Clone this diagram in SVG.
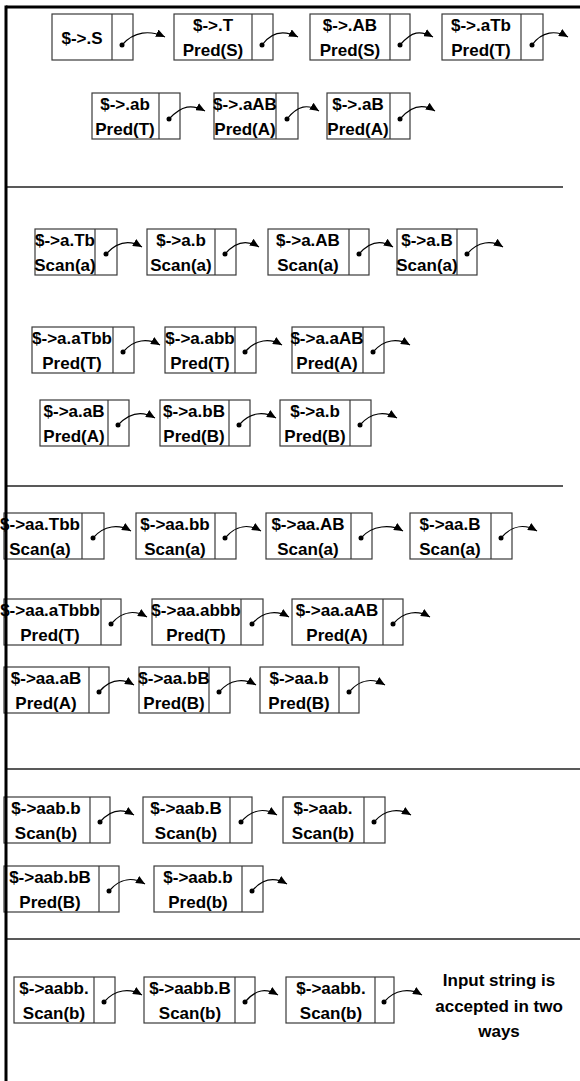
<svg xmlns="http://www.w3.org/2000/svg" width="580" height="1081" viewBox="0 0 580 1081">
<style>
.box{fill:#fff;stroke:#3a3a3a;stroke-width:1.2}
.div{stroke:#3a3a3a;stroke-width:1.2}
text{font-family:"Liberation Sans",Arial,sans-serif;font-weight:bold;font-size:17px;fill:#000;text-anchor:middle}
.con{fill:none;stroke:#000;stroke-width:1.2;marker-start:url(#dot);marker-end:url(#arr)}
.sep{stroke:#222;stroke-width:1.5}
.frame{stroke:#000;stroke-width:3}
</style>
<defs>
<marker id="dot" markerWidth="6" markerHeight="6" refX="3" refY="3" markerUnits="userSpaceOnUse"><circle cx="3" cy="3" r="2.5" fill="#000"/></marker>
<marker id="arr" markerWidth="10" markerHeight="8" refX="9" refY="4" orient="auto" markerUnits="userSpaceOnUse"><path d="M0,0 L9,4 L0,8 Z" fill="#000"/></marker>
</defs>

<g id="separators">
<line class="sep" x1="6" y1="187" x2="563" y2="187"/>
<line class="sep" x1="6" y1="486" x2="563" y2="486"/>
<line class="sep" x1="6" y1="769" x2="580" y2="769"/>
<line class="sep" x1="6" y1="939" x2="580" y2="939"/>
</g>

<!-- Row 1 -->
<g id="r1b1"><rect class="box" x="52" y="14" width="81" height="46"/><line class="div" x1="112" y1="14" x2="112" y2="60"/><text x="82" y="44">$-&gt;.S</text></g>
<g id="r1b2"><rect class="box" x="174" y="14" width="99" height="46"/><line class="div" x1="252" y1="14" x2="252" y2="60"/><text x="213" y="31">$-&gt;.T</text><text x="213" y="56">Pred(S)</text></g>
<g id="r1b3"><rect class="box" x="310" y="14" width="100" height="46"/><line class="div" x1="390" y1="14" x2="390" y2="60"/><text x="350" y="31">$-&gt;.AB</text><text x="350" y="56">Pred(S)</text></g>
<g id="r1b4"><rect class="box" x="442" y="14" width="101" height="46"/><line class="div" x1="521" y1="14" x2="521" y2="60"/><text x="481" y="31">$-&gt;.aTb</text><text x="481" y="56">Pred(T)</text></g>

<!-- Row 2 -->
<g id="r2b1"><rect class="box" x="92" y="93" width="88" height="46"/><line class="div" x1="159" y1="93" x2="159" y2="139"/><text x="125" y="110">$-&gt;.ab</text><text x="125" y="135">Pred(T)</text></g>
<g id="r2b2"><rect class="box" x="214" y="93" width="84" height="46"/><line class="div" x1="276" y1="93" x2="276" y2="139"/><text x="245" y="110">$-&gt;.aAB</text><text x="245" y="135">Pred(A)</text></g>
<g id="r2b3"><rect class="box" x="327" y="93" width="83" height="46"/><line class="div" x1="390" y1="93" x2="390" y2="139"/><text x="358" y="110">$-&gt;.aB</text><text x="358" y="135">Pred(A)</text></g>

<!-- Row 3 -->
<g id="r3b1"><rect class="box" x="35" y="229" width="82" height="46"/><line class="div" x1="95" y1="229" x2="95" y2="275"/><text x="65" y="246">$-&gt;a.Tb</text><text x="65" y="271">Scan(a)</text></g>
<g id="r3b2"><rect class="box" x="147" y="229" width="89" height="46"/><line class="div" x1="215" y1="229" x2="215" y2="275"/><text x="181" y="246">$-&gt;a.b</text><text x="181" y="271">Scan(a)</text></g>
<g id="r3b3"><rect class="box" x="268" y="229" width="101" height="46"/><line class="div" x1="349" y1="229" x2="349" y2="275"/><text x="308" y="246">$-&gt;a.AB</text><text x="308" y="271">Scan(a)</text></g>
<g id="r3b4"><rect class="box" x="397" y="229" width="80" height="46"/><line class="div" x1="457" y1="229" x2="457" y2="275"/><text x="427" y="246">$-&gt;a.B</text><text x="427" y="271">Scan(a)</text></g>

<!-- Row 4 -->
<g id="r4b1"><rect class="box" x="32" y="327" width="102" height="46"/><line class="div" x1="113" y1="327" x2="113" y2="373"/><text x="72" y="344">$-&gt;a.aTbb</text><text x="72" y="369">Pred(T)</text></g>
<g id="r4b2"><rect class="box" x="165" y="327" width="91" height="46"/><line class="div" x1="235" y1="327" x2="235" y2="373"/><text x="200" y="344">$-&gt;a.abb</text><text x="200" y="369">Pred(T)</text></g>
<g id="r4b3"><rect class="box" x="292" y="327" width="92" height="46"/><line class="div" x1="363" y1="327" x2="363" y2="373"/><text x="327" y="344">$-&gt;a.aAB</text><text x="327" y="369">Pred(A)</text></g>

<!-- Row 5 -->
<g id="r5b1"><rect class="box" x="40" y="400" width="89" height="46"/><line class="div" x1="108" y1="400" x2="108" y2="446"/><text x="74" y="417">$-&gt;a.aB</text><text x="74" y="442">Pred(A)</text></g>
<g id="r5b2"><rect class="box" x="160" y="400" width="90" height="46"/><line class="div" x1="229" y1="400" x2="229" y2="446"/><text x="194" y="417">$-&gt;a.bB</text><text x="194" y="442">Pred(B)</text></g>
<g id="r5b3"><rect class="box" x="280" y="400" width="91" height="46"/><line class="div" x1="350" y1="400" x2="350" y2="446"/><text x="315" y="417">$-&gt;a.b</text><text x="315" y="442">Pred(B)</text></g>

<!-- Row 6 -->
<g id="r6b1"><rect class="box" x="4" y="513" width="100" height="46"/><line class="div" x1="82" y1="513" x2="82" y2="559"/><text x="40" y="530">$-&gt;aa.Tbb</text><text x="40" y="555">Scan(a)</text></g>
<g id="r6b2"><rect class="box" x="136" y="513" width="100" height="46"/><line class="div" x1="215" y1="513" x2="215" y2="559"/><text x="175" y="530">$-&gt;aa.bb</text><text x="175" y="555">Scan(a)</text></g>
<g id="r6b3"><rect class="box" x="266" y="513" width="106" height="46"/><line class="div" x1="351" y1="513" x2="351" y2="559"/><text x="308" y="530">$-&gt;aa.AB</text><text x="308" y="555">Scan(a)</text></g>
<g id="r6b4"><rect class="box" x="410" y="513" width="102" height="46"/><line class="div" x1="491" y1="513" x2="491" y2="559"/><text x="450" y="530">$-&gt;aa.B</text><text x="450" y="555">Scan(a)</text></g>

<!-- Row 7 -->
<g id="r7b1"><rect class="box" x="4" y="599" width="117" height="46"/><line class="div" x1="101" y1="599" x2="101" y2="645"/><text x="50" y="616">$-&gt;aa.aTbbb</text><text x="50" y="641">Pred(T)</text></g>
<g id="r7b2"><rect class="box" x="152" y="599" width="111" height="46"/><line class="div" x1="241" y1="599" x2="241" y2="645"/><text x="196" y="616">$-&gt;aa.abbb</text><text x="196" y="641">Pred(T)</text></g>
<g id="r7b3"><rect class="box" x="292" y="599" width="111" height="46"/><line class="div" x1="383" y1="599" x2="383" y2="645"/><text x="337" y="616">$-&gt;aa.aAB</text><text x="337" y="641">Pred(A)</text></g>

<!-- Row 8 -->
<g id="r8b1"><rect class="box" x="4" y="667" width="105" height="46"/><line class="div" x1="89" y1="667" x2="89" y2="713"/><text x="46" y="684">$-&gt;aa.aB</text><text x="46" y="709">Pred(A)</text></g>
<g id="r8b2"><rect class="box" x="139" y="667" width="91" height="46"/><line class="div" x1="209" y1="667" x2="209" y2="713"/><text x="174" y="684">$-&gt;aa.bB</text><text x="174" y="709">Pred(B)</text></g>
<g id="r8b3"><rect class="box" x="260" y="667" width="99" height="46"/><line class="div" x1="339" y1="667" x2="339" y2="713"/><text x="299" y="684">$-&gt;aa.b</text><text x="299" y="709">Pred(B)</text></g>

<!-- Row 9 -->
<g id="r9b1"><rect class="box" x="4" y="797" width="106" height="46"/><line class="div" x1="90" y1="797" x2="90" y2="843"/><text x="46" y="814">$-&gt;aab.b</text><text x="46" y="839">Scan(b)</text></g>
<g id="r9b2"><rect class="box" x="143" y="797" width="109" height="46"/><line class="div" x1="230" y1="797" x2="230" y2="843"/><text x="186" y="814">$-&gt;aab.B</text><text x="186" y="839">Scan(b)</text></g>
<g id="r9b3"><rect class="box" x="283" y="797" width="102" height="46"/><line class="div" x1="364" y1="797" x2="364" y2="843"/><text x="323" y="814">$-&gt;aab.</text><text x="323" y="839">Scan(b)</text></g>

<!-- Row 10 -->
<g id="r10b1"><rect class="box" x="4" y="866" width="115" height="46"/><line class="div" x1="99" y1="866" x2="99" y2="912"/><text x="50" y="883">$-&gt;aab.bB</text><text x="50" y="908">Pred(B)</text></g>
<g id="r10b2"><rect class="box" x="154" y="866" width="109" height="46"/><line class="div" x1="242" y1="866" x2="242" y2="912"/><text x="198" y="883">$-&gt;aab.b</text><text x="198" y="908">Pred(b)</text></g>

<!-- Row 11 -->
<g id="r11b1"><rect class="box" x="14" y="977" width="101" height="46"/><line class="div" x1="94" y1="977" x2="94" y2="1023"/><text x="54" y="994">$-&gt;aabb.</text><text x="54" y="1019">Scan(b)</text></g>
<g id="r11b2"><rect class="box" x="144" y="977" width="111" height="46"/><line class="div" x1="235" y1="977" x2="235" y2="1023"/><text x="190" y="994">$-&gt;aabb.B</text><text x="190" y="1019">Scan(b)</text></g>
<g id="r11b3"><rect class="box" x="286" y="977" width="108" height="46"/><line class="div" x1="375" y1="977" x2="375" y2="1023"/><text x="331" y="994">$-&gt;aabb.</text><text x="331" y="1019">Scan(b)</text></g>

<g id="note"><text x="499" y="986">Input string is</text><text x="499" y="1012">accepted in two</text><text x="499" y="1037">ways</text></g>

<g id="connectors">
<path class="con" d="M122,45 C134,31 150,30 165,37"/>
<path class="con" d="M262,45 C272,31 284,30 298,37"/>
<path class="con" d="M400,45 C412,31 420,30 433,37"/>
<path class="con" d="M532,45 C542,31 556,30 568,37"/>

<path class="con" d="M169,119 C182,105 192,104 205,111"/>
<path class="con" d="M287,119 C298,105 308,104 319,111"/>
<path class="con" d="M400,119 C412,105 424,104 435,111"/>

<path class="con" d="M106,254 C118,241 130,240 142,247"/>
<path class="con" d="M225,254 C236,241 248,240 259,247"/>
<path class="con" d="M359,254 C370,241 382,240 393,247"/>
<path class="con" d="M467,254 C478,241 492,240 503,247"/>

<path class="con" d="M123,352 C134,339 148,338 160,345"/>
<path class="con" d="M245,352 C256,339 270,338 282,345"/>
<path class="con" d="M373,352 C384,339 398,338 410,345"/>

<path class="con" d="M118,425 C130,412 143,411 155,418"/>
<path class="con" d="M239,425 C250,412 264,411 276,418"/>
<path class="con" d="M360,425 C371,412 385,411 397,418"/>

<path class="con" d="M93,538 C104,525 119,524 131,531"/>
<path class="con" d="M225,538 C236,525 249,524 261,531"/>
<path class="con" d="M361,538 C372,525 391,524 403,531"/>
<path class="con" d="M501,538 C512,525 525,524 537,531"/>

<path class="con" d="M111,624 C122,611 135,610 147,617"/>
<path class="con" d="M252,624 C263,611 277,610 289,617"/>
<path class="con" d="M393,624 C404,611 418,610 430,617"/>

<path class="con" d="M99,692 C110,679 122,678 134,685"/>
<path class="con" d="M219,692 C230,679 244,678 256,685"/>
<path class="con" d="M349,692 C360,679 373,678 385,685"/>

<path class="con" d="M100,822 C111,809 122,808 134,815"/>
<path class="con" d="M241,822 C252,809 265,808 277,815"/>
<path class="con" d="M374,822 C385,809 399,808 411,815"/>

<path class="con" d="M109,891 C120,878 133,877 145,884"/>
<path class="con" d="M252,891 C263,878 275,877 287,884"/>

<path class="con" d="M104,1002 C115,989 130,988 142,995"/>
<path class="con" d="M245,1002 C256,989 266,988 278,995"/>
<path class="con" d="M384,1002 C395,989 410,988 422,995"/>
</g>

<g id="frame">
<line class="frame" x1="6" y1="7" x2="580" y2="7"/>
<line class="frame" x1="6" y1="5.5" x2="6" y2="1081"/>
</g>
</svg>
